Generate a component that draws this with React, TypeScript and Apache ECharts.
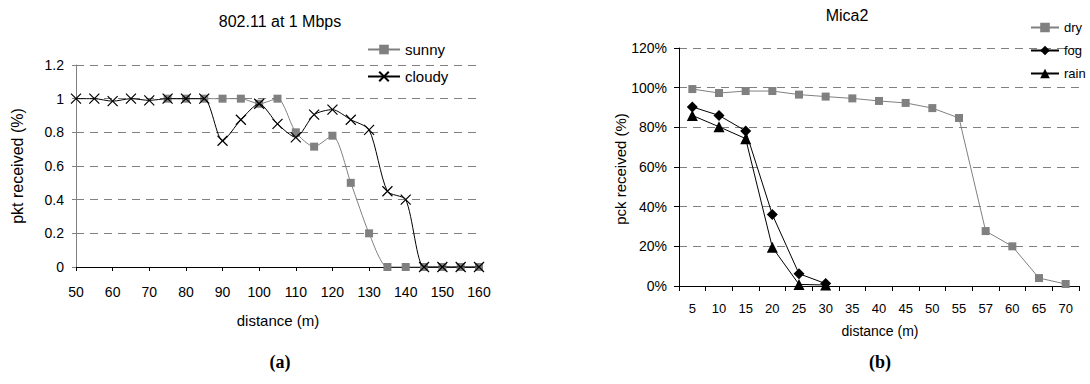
import React, { useEffect, useRef } from "react";
import * as echarts from "echarts";

const distA = [50, 55, 60, 65, 70, 75, 80, 85, 90, 95, 100, 105, 110, 115, 120, 125, 130, 135, 140, 145, 150, 155, 160];
const sunny = [null, null, null, null, null, 1.0, 1.0, 1.0, 1.0, 1.0, 0.97, 1.0, 0.8, 0.715, 0.78, 0.5, 0.2, 0, 0, 0, 0, 0, 0];
const cloudy = [1.0, 1.0, 0.985, 1.0, 0.99, 1.0, 1.0, 1.0, 0.75, 0.875, 0.97, 0.85, 0.77, 0.905, 0.935, 0.875, 0.815, 0.45, 0.4, 0, 0, 0, 0];

const distB = ["5", "10", "15", "20", "25", "30", "35", "40", "45", "50", "55", "57", "60", "65", "70"];
const dry = [99.3, 97.3, 98.3, 98.3, 96.5, 95.5, 94.6, 93.3, 92.3, 89.7, 84.7, 27.7, 20.0, 4.0, 1.0];
const fog = [90.3, 86, 78.2, 36, 6.2, 1.2];
const rain = [86, 80.3, 74.3, 19.5, 0.8, 0.5];

const FONT = "Liberation Sans, Arial, sans-serif";
const GRAY = "#808080";

export default function App() {
  const ref = useRef<HTMLDivElement>(null);
  useEffect(() => {
    if (!ref.current) return;
    const chart = echarts.init(ref.current, null, { renderer: "svg" });
    const pair = (xs: number[], ys: (number | null)[]) => xs.map((x, i) => [x, ys[i]]);
    const dashed = { show: true, lineStyle: { color: GRAY, type: [8, 6] as any, width: 1 } };
    chart.setOption({
      animation: false,
      backgroundColor: "#fff",
      textStyle: { fontFamily: FONT, color: "#000" },
      grid: [
        { left: 76, top: 65, width: 403, height: 202 },
        { left: 679, top: 48, width: 400, height: 238 },
      ],
      xAxis: [
        {
          gridIndex: 0,
          type: "value",
          min: 50,
          max: 160,
          interval: 10,
          axisLine: { lineStyle: { color: "#000", width: 1 } },
          axisTick: { show: true, length: 4, lineStyle: { color: "#000" } },
          axisLabel: { fontSize: 14, color: "#000", margin: 18, fontFamily: FONT },
          splitLine: { show: false },
        },
        {
          gridIndex: 1,
          type: "category",
          data: distB,
          boundaryGap: true,
          axisLine: { lineStyle: { color: "#000", width: 1 } },
          axisTick: { show: true, length: 5, interval: 0, lineStyle: { color: "#000" } },
          axisLabel: { fontSize: 13, color: "#000", margin: 16, interval: 0, fontFamily: FONT },
          splitLine: { show: false },
        },
      ],
      yAxis: [
        {
          gridIndex: 0,
          type: "value",
          min: 0,
          max: 1.2,
          interval: 0.2,
          axisLine: { show: true, lineStyle: { color: GRAY, width: 1 } },
          axisTick: { show: true, length: 4, lineStyle: { color: GRAY } },
          axisLabel: { fontSize: 14, color: "#000", margin: 12, fontFamily: FONT },
          splitLine: dashed,
        },
        {
          gridIndex: 1,
          type: "value",
          min: 0,
          max: 120,
          interval: 20,
          axisLine: { show: true, lineStyle: { color: "#000", width: 1 } },
          axisTick: { show: true, length: 5, lineStyle: { color: "#000" } },
          axisLabel: { fontSize: 14, color: "#000", margin: 12, formatter: "{value}%", fontFamily: FONT },
          splitLine: dashed,
        },
      ],
      legend: [
        {
          left: 367,
          top: 42,
          padding: 0,
          orient: "vertical",
          itemWidth: 32,
          itemHeight: 12,
          itemGap: 12,
          data: ["sunny", "cloudy"],
          textStyle: { fontSize: 15, color: "#000", fontFamily: FONT },
        },
        {
          left: 1030,
          top: 21,
          padding: 0,
          orient: "vertical",
          itemWidth: 28,
          itemHeight: 12,
          itemGap: 10,
          data: ["dry", "fog", "rain"],
          textStyle: { fontSize: 13, color: "#000", fontFamily: FONT },
        },
      ],
      graphic: [
        { type: "text", x: 280, y: 21, style: { text: "802.11 at 1 Mbps", font: `16px ${FONT}`, fill: "#000", align: "center", verticalAlign: "middle" } },
        { type: "text", x: 847, y: 15, style: { text: "Mica2", font: `16px ${FONT}`, fill: "#000", align: "center", verticalAlign: "middle" } },
        { type: "text", x: 17, y: 166, rotation: Math.PI / 2, style: { text: "pkt received (%)", font: `16px ${FONT}`, fill: "#000", align: "center", verticalAlign: "middle" } },
        { type: "text", x: 620, y: 169, rotation: Math.PI / 2, style: { text: "pck received (%)", font: `15px ${FONT}`, fill: "#000", align: "center", verticalAlign: "middle" } },
        { type: "text", x: 278, y: 320, style: { text: "distance (m)", font: `15px ${FONT}`, fill: "#000", align: "center", verticalAlign: "middle" } },
        { type: "text", x: 880, y: 331, style: { text: "distance (m)", font: `14px ${FONT}`, fill: "#000", align: "center", verticalAlign: "middle" } },
        { type: "text", x: 280, y: 362, style: { text: "(a)", font: `bold 18px Liberation Serif, Times New Roman, serif`, fill: "#000", align: "center", verticalAlign: "middle" } },
        { type: "text", x: 880, y: 362, style: { text: "(b)", font: `bold 18px Liberation Serif, Times New Roman, serif`, fill: "#000", align: "center", verticalAlign: "middle" } },
      ],
      series: [
        {
          name: "sunny",
          type: "line",
          xAxisIndex: 0,
          yAxisIndex: 0,
          data: pair(distA, sunny),
          smooth: 0.25,
          symbol: "rect",
          symbolSize: 8,
          color: GRAY,
          lineStyle: { color: GRAY, width: 1 },
          itemStyle: { color: GRAY },
          z: 2,
        },
        {
          name: "cloudy",
          type: "line",
          xAxisIndex: 0,
          yAxisIndex: 0,
          data: pair(distA, cloudy),
          smooth: 0.25,
          symbol: "path://M0,0L10,10M10,0L0,10",
          symbolSize: 10,
          color: "#000",
          lineStyle: { color: "#000", width: 1 },
          itemStyle: { color: "none", borderColor: "#000", borderWidth: 1.2 },
          z: 3,
        },
        {
          name: "dry",
          type: "line",
          xAxisIndex: 1,
          yAxisIndex: 1,
          data: dry,
          symbol: "rect",
          symbolSize: 8,
          color: GRAY,
          lineStyle: { color: GRAY, width: 1 },
          itemStyle: { color: GRAY },
        },
        {
          name: "fog",
          type: "line",
          xAxisIndex: 1,
          yAxisIndex: 1,
          data: fog,
          symbol: "diamond",
          symbolSize: 11,
          color: "#000",
          lineStyle: { color: "#000", width: 1 },
          itemStyle: { color: "#000" },
        },
        {
          name: "rain",
          type: "line",
          xAxisIndex: 1,
          yAxisIndex: 1,
          data: rain,
          symbol: "triangle",
          symbolSize: 11,
          color: "#000",
          lineStyle: { color: "#000", width: 1 },
          itemStyle: { color: "#000" },
        },
      ],
    });
    return () => chart.dispose();
  }, []);
  return <div ref={ref} style={{ position: "absolute", left: 0, top: 0, width: 1090, height: 384 }} />;
}
